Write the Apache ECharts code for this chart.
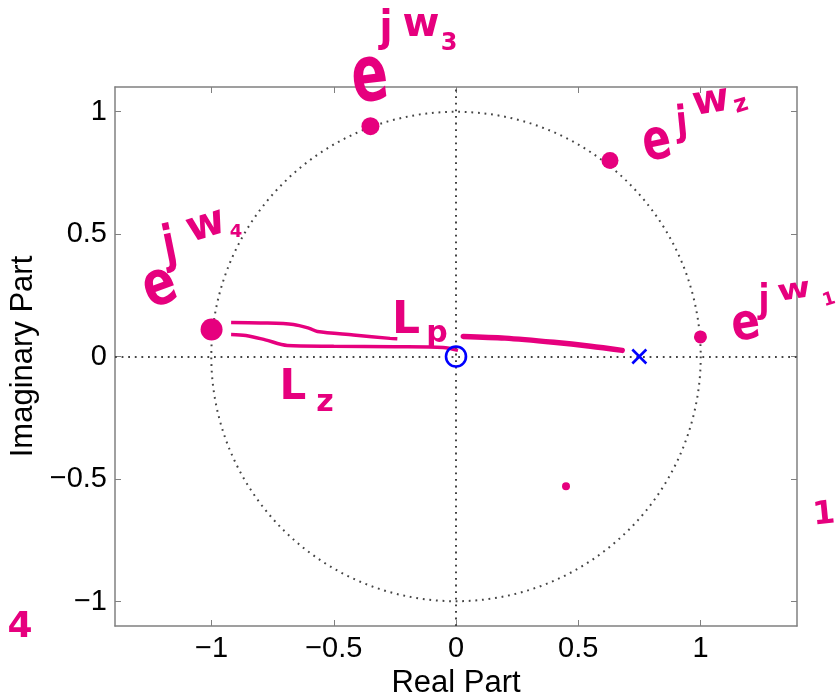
<!DOCTYPE html>
<html>
<head>
<meta charset="utf-8">
<script src="https://cdn.jsdelivr.net/npm/echarts@6/dist/echarts.min.js"></script>
<style>html,body{margin:0;padding:0;background:#fff}#c{width:836px;height:695px}</style>
</head>
<body>
<div id="c"></div>
<script>
// ---- data ----
const tickValues = [-1, -0.5, 0, 0.5, 1];
const zeros = [[0, 0]];
const poles = [[0.75, 0]];
const unitCircle = [[0, 0, 1]]; // centre x, centre y, radius
// hand-marked frequency points e^{jw1..4} and a stray dot
const dotX = [1.0, 0.63, -0.35, -1.0, 0.45];
const dotY = [0.08, 0.80, 0.94, 0.11, -0.53];
// hand-drawn vector L_p (towards pole) and L_z (towards zero)
const lpX = [-0.92, -0.80, -0.665, -0.60, -0.567, -0.42, -0.27, -0.24];
const lpY = [0.139, 0.137, 0.131, 0.115, 0.102, 0.088, 0.074, 0.072];
const lpThickX = [0.03, 0.20, 0.40, 0.55, 0.68];
const lpThickY = [0.082, 0.075, 0.058, 0.042, 0.025];
const lzX = [-0.92, -0.86, -0.78, -0.69, -0.50, -0.25, -0.053, 0.008];
const lzY = [0.090, 0.086, 0.068, 0.045, 0.042, 0.040, 0.037, 0.025];

const PINK = '#e6007e';
const BLUE = '#0000ff';
const FONT = 'Liberation Sans';
const dotSizes = [13, 17, 18, 22, 8];

const zip = (a, b) => a.map((v, i) => [v, b[i]]);
const fmt = v => String(v).replace('-', '\u2212');

function axisCommon(extra) {
  return Object.assign({
    type: 'value',
    axisLine: { show: true, onZero: false, lineStyle: { color: '#808080', width: 1.5 } },
    axisTick: { show: true, inside: true, length: 6, customValues: tickValues, lineStyle: { color: '#808080', width: 1 } },
    splitLine: { show: false },
  }, extra);
}

function letter(text, x, y, size, opts) {
  opts = opts || {};
  return {
    type: 'text', x: x, y: y, rotation: opts.rot || 0, scaleX: opts.sx || 1, scaleY: opts.sy || 1,
    style: { text: text, fill: PINK, font: (opts.w || 'bold') + ' ' + size + 'px "DejaVu Sans"', align: 'center', verticalAlign: 'middle' },
    z: 100
  };
}

const chart = echarts.init(document.getElementById('c'), null, { renderer: 'canvas' });
const option = {
  animation: false,
  backgroundColor: '#fff',
  grid: { left: 115, top: 87, width: 682, height: 539, containLabel: false, outerBoundsMode: 'none' },
  xAxis: [
    axisCommon({
      min: -1.395, max: 1.395, position: 'bottom',
      axisLabel: { customValues: tickValues, formatter: fmt, color: '#000', fontSize: 29, fontFamily: FONT, margin: 8 },
      name: 'Real Part', nameLocation: 'middle', nameGap: 35,
      nameTextStyle: { color: '#000', fontSize: 31, fontFamily: FONT }
    }),
    axisCommon({ min: -1.395, max: 1.395, position: 'top', axisLabel: { show: false } })
  ],
  yAxis: [
    axisCommon({
      min: -1.1, max: 1.1, position: 'left',
      axisLabel: { customValues: tickValues, formatter: fmt, color: '#000', fontSize: 29, fontFamily: FONT, margin: 8 },
      name: 'Imaginary Part', nameLocation: 'middle', nameGap: 71,
      nameTextStyle: { color: '#000', fontSize: 31, fontFamily: FONT }
    }),
    axisCommon({ min: -1.1, max: 1.1, position: 'right', axisLabel: { show: false } })
  ],
  series: [
    {
      type: 'custom', silent: true, z: 1,
      data: unitCircle,
      renderItem: function (params, api) {
        const c = api.coord([api.value(0), api.value(1)]);
        const s = api.size([api.value(2), api.value(2)]);
        return {
          type: 'circle',
          shape: { cx: c[0], cy: c[1], r: (s[0] + s[1]) / 2 },
          style: { fill: 'none', stroke: '#444', lineWidth: 2, lineDash: [1.8, 4.8] }
        };
      },
      markLine: {
        silent: true, symbol: 'none', label: { show: false },
        lineStyle: { color: '#444', type: [1.8, 4.8], width: 2 },
        data: [{ yAxis: 0 }, { xAxis: 0 }]
      }
    },
    { type: 'line', data: zip(lpX, lpY), smooth: 0.3, symbol: 'none', lineStyle: { color: PINK, width: 3.5 }, z: 3 },
    { type: 'line', data: zip(lpThickX, lpThickY), smooth: 0.3, symbol: 'none', lineStyle: { color: PINK, width: 5.5, cap: 'round' }, z: 3 },
    { type: 'line', data: zip(lzX, lzY), smooth: 0.3, symbol: 'none', lineStyle: { color: PINK, width: 3.5 }, z: 3 },
    {
      type: 'scatter', z: 4,
      data: zip(dotX, dotY).map((d, i) => ({ value: d, symbolSize: dotSizes[i] })),
      itemStyle: { color: PINK, opacity: 1 }
    },
    {
      type: 'scatter', z: 5, data: zeros, symbol: 'circle', symbolSize: 20,
      itemStyle: { color: 'rgba(0,0,0,0)', borderColor: BLUE, borderWidth: 2.6, opacity: 1 }
    },
    {
      type: 'scatter', z: 5, data: poles, symbol: 'path://M0,0L10,10M10,0L0,10', symbolSize: 14,
      itemStyle: { color: 'none', borderColor: BLUE, borderWidth: 2.6, opacity: 1 }
    }
  ],
  graphic: [
    // e^{jw3}
    letter('e', 370, 80, 54, { sy: 1.45, rot: 0.12 }),
    letter('j', 386, 30, 38, { sy: 1.1 }),
    letter('w', 421, 26, 40, { sy: 1.0 }),
    letter('3', 449, 44, 24),
    // e^{jw2}
    letter('e', 657, 144, 42, { sy: 1.35, rot: 0.2 }),
    letter('j', 682, 124, 34, { sy: 1.2, rot: 0.1 }),
    letter('w', 711, 102, 40, { rot: 0.15 }),
    letter('z', 741, 105, 24, { rot: 0.3 }),
    // e^{jw1}
    letter('e', 746, 326, 42, { sy: 1.2, rot: 0.15 }),
    letter('j', 764, 302, 32, { sy: 1.2 }),
    letter('w', 794, 291, 36, { sy: 0.8, rot: 0.15 }),
    letter('1', 829, 300, 18, { rot: 0.3 }),
    // e^{jw4}
    letter('e', 160, 288, 48, { sy: 1.3, rot: 0.35 }),
    letter('j', 170, 248, 38, { sy: 1.35, rot: 0.2 }),
    letter('w', 206, 226, 42, { rot: 0.3 }),
    letter('4', 236, 232, 18),
    // L_p and L_z
    letter('L', 406, 322, 44, { sy: 1.0 }),
    letter('p', 437, 334, 30),
    letter('L', 293, 388, 42),
    letter('z', 325, 403, 30),
    // stray marks
    letter('4', 20, 628, 36),
    letter('1', 824, 515, 32, { rot: 0.1 })
  ]
};
chart.setOption(option);
</script>
</body>
</html>
